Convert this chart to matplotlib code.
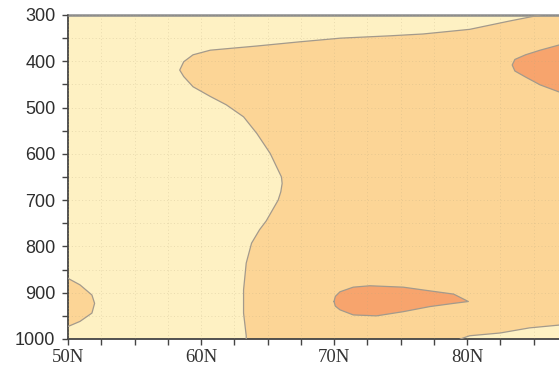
import matplotlib
matplotlib.use("Agg")
import matplotlib.pyplot as plt
from matplotlib.ticker import MultipleLocator, FixedLocator

# ---- data (latitude in degrees N, pressure in hPa) ----
# western / upper edge of the middle (orange) band
west_lat = [85.5, 83.2, 80.2, 76.7, 74.2, 70.5, 67.4, 64.2, 60.7, 59.4, 58.7, 58.4,
            58.7, 59.4, 60.7, 61.9, 63.2, 64.2, 65.2, 65.8, 66.05, 66.1, 66.0, 65.8,
            65.4, 64.9, 64.4, 63.8, 63.4, 63.2, 63.2, 63.4, 63.4]
west_p = [300, 313, 331, 341, 345, 350, 358, 367, 376, 386, 401, 419,
          433, 455, 476, 494, 520, 556, 599, 635, 650, 664, 682, 700,
          720, 745, 764, 793, 836, 894, 944, 993, 1000]
# lower-right light region edge
br_lat = [79.5, 80.2, 82.5, 84.7, 86.9, 90.0]
br_p = [1000, 993, 987, 976, 970, 962]
# small orange lobe at 50N
bl_lat = [50.0, 50.9, 51.8, 52.0, 51.8, 50.9, 50.0]
bl_p = [869, 883, 905, 923, 944, 962, 973]
# dark tear-drop near the ground, 70-80N
td_lat = [70.0, 70.1, 70.45, 71.45, 72.7, 75.2, 77.2, 79.0, 80.1, 79.0, 77.2, 75.2,
          73.2, 71.45, 70.45, 70.1, 70.0]
td_p = [919, 908, 898, 888, 885, 888, 896, 903, 919, 923, 930, 941,
        950, 948, 937, 929, 919]
# dark lobe at the upper right
rb_lat = [90.0, 86.9, 85.5, 84.4, 83.6, 83.4, 83.6, 84.4, 85.5, 86.9, 90.0]
rb_p = [355, 365, 376, 386, 396, 408, 421, 434, 451, 466, 480]

x_ticks = [50, 60, 70, 80]
x_labels = ["50N", "60N", "70N", "80N"]
y_ticks = [300, 400, 500, 600, 700, 800, 900, 1000]

c_light = "#fef1c3"
c_mid = "#fcd596"
c_dark = "#f7a46d"
c_line = "#a39a8c"

fig = plt.figure(figsize=(5.59, 3.70), dpi=100)
ax = fig.add_axes([68 / 559, 31 / 370, 532 / 559, 324 / 370])
ax.set_facecolor(c_light)

# middle band polygon
mid_lat = west_lat + [br_lat[0]] + br_lat + [91, 91, west_lat[0]]
mid_p = west_p + [1010] + br_p + [br_p[-1], 290, 290]
ax.fill(mid_lat, mid_p, color=c_mid, lw=0, zorder=1)
ax.fill(bl_lat, bl_p, color=c_mid, lw=0, zorder=1)
ax.fill(td_lat, td_p, color=c_dark, lw=0, zorder=2)
ax.fill(rb_lat, rb_p, color=c_dark, lw=0, zorder=2)

for la, pr in [(west_lat, west_p), (br_lat, br_p), (bl_lat, bl_p),
               (td_lat, td_p), (rb_lat, rb_p)]:
    ax.plot(la, pr, color=c_line, lw=0.9, zorder=3, solid_joinstyle="round")

ax.set_xlim(50, 90)
ax.set_ylim(1000, 300)

ax.xaxis.set_major_locator(FixedLocator(x_ticks))
ax.set_xticklabels(x_labels, family="Liberation Serif", fontsize=13.5, color="#333333")
ax.xaxis.set_minor_locator(MultipleLocator(2.5))
ax.yaxis.set_major_locator(FixedLocator(y_ticks))
ax.set_yticklabels([str(v) for v in y_ticks], family="Liberation Sans", fontsize=13,
                   color="#2e2e2e")
ax.yaxis.set_minor_locator(MultipleLocator(50))

ax.tick_params(which="both", direction="out", length=4, width=1.0, color="#444444")
ax.tick_params(axis="y", which="both", pad=5)
ax.tick_params(axis="x", which="both", pad=3)

ax.grid(which="both", linestyle=(0, (1, 2.5)), color="#b8a880", alpha=0.3, lw=0.7,
        zorder=4)
ax.set_axisbelow(False)

ax.spines["left"].set_color("#444444")
ax.spines["left"].set_linewidth(1.3)
ax.spines["bottom"].set_color("#444444")
ax.spines["bottom"].set_linewidth(1.3)
ax.spines["top"].set_color("#8c8c8c")
ax.spines["top"].set_linewidth(1.8)
ax.spines["right"].set_visible(False)

fig.savefig("out.png", dpi=100)
